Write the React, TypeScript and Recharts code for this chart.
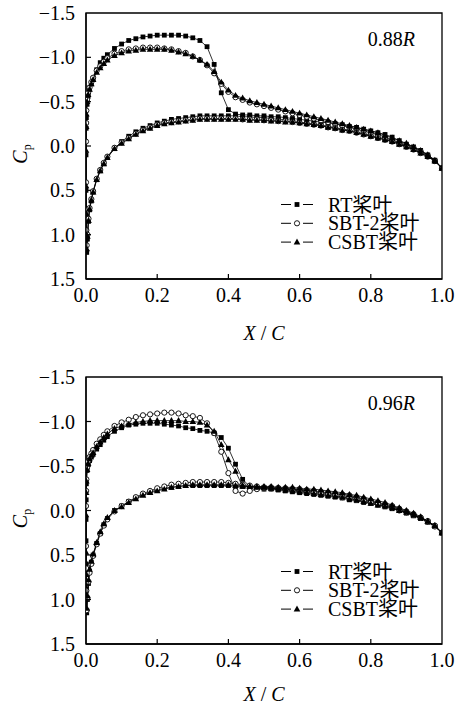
import React from 'react';
import { ScatterChart, Scatter, XAxis, YAxis, ReferenceArea, Legend } from 'recharts';

// Chord stations (leading edge part, then body)
const X_UPPER = [
  0, 0.0005, 0.001, 0.003, 0.006, 0.01, 0.015, 0.02, 0.03, 0.04, 0.05, 0.06, 0.08,
  0.1, 0.12, 0.14, 0.16, 0.18, 0.2, 0.22, 0.24, 0.26, 0.28,
  0.3, 0.32, 0.34, 0.36, 0.38, 0.4, 0.42, 0.44, 0.46, 0.48,
  0.5, 0.52, 0.54, 0.56, 0.58, 0.6, 0.62, 0.64, 0.66, 0.68,
  0.7, 0.72, 0.74, 0.76, 0.78, 0.8, 0.82, 0.84, 0.86, 0.88,
  0.9, 0.92, 0.94, 0.96, 0.98, 1.0,
];
const X_LOWER = [
  0, 0.0005, 0.001, 0.002, 0.004, 0.007, 0.01, 0.015, 0.02, 0.03, 0.04, 0.05, 0.06, 0.08,
  0.1, 0.12, 0.14, 0.16, 0.18, 0.2, 0.22, 0.24, 0.26, 0.28,
  0.3, 0.32, 0.34, 0.36, 0.38, 0.4, 0.42, 0.44, 0.46, 0.48,
  0.5, 0.52, 0.54, 0.56, 0.58, 0.6, 0.62, 0.64, 0.66, 0.68,
  0.7, 0.72, 0.74, 0.76, 0.78, 0.8, 0.82, 0.84, 0.86, 0.88,
  0.9, 0.92, 0.94, 0.96, 0.98, 1.0,
];

// ---------- 0.88R ----------
const R88_RT_UPPER = [
  0.10, -0.20, -0.32, -0.47, -0.56, -0.64, -0.70, -0.76, -0.86, -0.94, -0.99, -1.03, -1.10,
  -1.15, -1.19, -1.21, -1.23, -1.24, -1.25, -1.25, -1.25, -1.25, -1.24,
  -1.22, -1.19, -1.12, -0.92, -0.60, -0.41, -0.36, -0.35, -0.35, -0.34,
  -0.34, -0.33, -0.33, -0.32, -0.31, -0.30, -0.29, -0.28, -0.27, -0.26,
  -0.25, -0.24, -0.22, -0.21, -0.19, -0.17, -0.15, -0.13, -0.10, -0.06,
  -0.02, 0.01, 0.05, 0.10, 0.16, 0.25,
];
const R88_SBT_UPPER = [
  -0.05, -0.26, -0.40, -0.52, -0.60, -0.66, -0.72, -0.77, -0.85, -0.90, -0.95, -0.99, -1.04,
  -1.07, -1.09, -1.10, -1.11, -1.11, -1.11, -1.10, -1.09, -1.07, -1.05,
  -1.01, -0.97, -0.91, -0.82, -0.70, -0.61, -0.55, -0.52, -0.49, -0.47,
  -0.45, -0.43, -0.41, -0.39, -0.37, -0.35, -0.33, -0.31, -0.29, -0.27,
  -0.25, -0.23, -0.21, -0.19, -0.17, -0.15, -0.13, -0.10, -0.07, -0.04,
  -0.01, 0.02, 0.06, 0.11, 0.17, 0.25,
];
const R88_CSBT_UPPER = [
  0.05, -0.22, -0.36, -0.50, -0.58, -0.64, -0.70, -0.75, -0.83, -0.88, -0.93, -0.97, -1.02,
  -1.05, -1.07, -1.08, -1.09, -1.09, -1.09, -1.09, -1.08, -1.06, -1.04,
  -1.01, -0.97, -0.92, -0.84, -0.72, -0.63, -0.57, -0.54, -0.51, -0.49,
  -0.47, -0.45, -0.43, -0.41, -0.39, -0.37, -0.35, -0.33, -0.31, -0.29,
  -0.27, -0.25, -0.23, -0.21, -0.19, -0.17, -0.15, -0.12, -0.09, -0.06,
  -0.03, 0.01, 0.05, 0.10, 0.16, 0.25,
];
const R88_RT_LOWER = [
  0.50, 0.80, 1.05, 1.20, 1.05, 0.85, 0.72, 0.62, 0.52, 0.38, 0.28, 0.20, 0.13, 0.03,
  -0.05, -0.11, -0.16, -0.20, -0.23, -0.26, -0.28, -0.30, -0.31, -0.32,
  -0.33, -0.34, -0.34, -0.34, -0.34, -0.34, -0.34, -0.33, -0.33, -0.32,
  -0.32, -0.31, -0.30, -0.30, -0.29, -0.27, -0.26, -0.25, -0.24, -0.22,
  -0.21, -0.19, -0.18, -0.16, -0.14, -0.12, -0.10, -0.08, -0.06, -0.03,
  0.00, 0.03, 0.07, 0.11, 0.17, 0.25,
];
const R88_SBT_LOWER = [
  0.41, 0.72, 0.95, 1.12, 1.00, 0.82, 0.70, 0.60, 0.51, 0.37, 0.27, 0.19, 0.12, 0.02,
  -0.04, -0.09, -0.14, -0.18, -0.21, -0.24, -0.26, -0.27, -0.28, -0.29,
  -0.30, -0.31, -0.31, -0.31, -0.31, -0.31, -0.31, -0.30, -0.30, -0.30,
  -0.29, -0.29, -0.28, -0.28, -0.27, -0.26, -0.25, -0.24, -0.23, -0.21,
  -0.20, -0.18, -0.17, -0.15, -0.13, -0.11, -0.09, -0.07, -0.05, -0.02,
  0.01, 0.04, 0.08, 0.12, 0.17, 0.25,
];
const R88_CSBT_LOWER = [
  0.45, 0.76, 1.00, 1.16, 1.02, 0.84, 0.71, 0.61, 0.52, 0.38, 0.28, 0.20, 0.13, 0.03,
  -0.03, -0.08, -0.13, -0.17, -0.20, -0.23, -0.25, -0.26, -0.27, -0.28,
  -0.29, -0.30, -0.30, -0.30, -0.30, -0.30, -0.30, -0.30, -0.29, -0.29,
  -0.29, -0.28, -0.28, -0.27, -0.27, -0.26, -0.25, -0.24, -0.23, -0.21,
  -0.20, -0.18, -0.17, -0.15, -0.13, -0.11, -0.09, -0.07, -0.05, -0.02,
  0.01, 0.04, 0.08, 0.12, 0.17, 0.25,
];

// ---------- 0.96R ----------
const R96_RT_UPPER = [
  0.10, -0.12, -0.30, -0.45, -0.52, -0.56, -0.60, -0.63, -0.69, -0.74, -0.79, -0.83, -0.89,
  -0.93, -0.96, -0.97, -0.98, -0.98, -0.98, -0.97, -0.96, -0.95, -0.93,
  -0.92, -0.90, -0.89, -0.87, -0.82, -0.70, -0.52, -0.35, -0.27, -0.26,
  -0.26, -0.25, -0.25, -0.24, -0.24, -0.23, -0.22, -0.21, -0.20, -0.19,
  -0.18, -0.17, -0.15, -0.14, -0.12, -0.10, -0.08, -0.06, -0.04, -0.01,
  0.02, 0.05, 0.09, 0.13, 0.18, 0.25,
];
const R96_SBT_UPPER = [
  -0.05, -0.22, -0.35, -0.48, -0.55, -0.60, -0.64, -0.68, -0.75, -0.80, -0.85, -0.89, -0.95,
  -0.99, -1.02, -1.05, -1.07, -1.08, -1.09, -1.10, -1.10, -1.09, -1.07,
  -1.06, -1.04, -0.98, -0.87, -0.66, -0.42, -0.22, -0.19, -0.22, -0.24,
  -0.25, -0.25, -0.25, -0.25, -0.24, -0.24, -0.23, -0.22, -0.21, -0.20,
  -0.19, -0.18, -0.17, -0.15, -0.13, -0.11, -0.09, -0.07, -0.05, -0.02,
  0.01, 0.04, 0.08, 0.12, 0.18, 0.25,
];
const R96_CSBT_UPPER = [
  0.05, -0.20, -0.33, -0.46, -0.53, -0.58, -0.62, -0.65, -0.72, -0.77, -0.82, -0.86, -0.92,
  -0.95, -0.97, -0.99, -1.00, -1.01, -1.01, -1.01, -1.01, -1.01, -1.00,
  -1.00, -0.99, -0.96, -0.89, -0.74, -0.57, -0.44, -0.27, -0.27, -0.27,
  -0.27, -0.27, -0.26, -0.26, -0.26, -0.25, -0.24, -0.24, -0.23, -0.22,
  -0.21, -0.20, -0.18, -0.17, -0.15, -0.13, -0.11, -0.09, -0.06, -0.03,
  0.00, 0.03, 0.07, 0.12, 0.17, 0.25,
];
const R96_RT_LOWER = [
  0.34, 0.60, 0.88, 1.15, 1.00, 0.82, 0.68, 0.58, 0.50, 0.37, 0.26, 0.16, 0.09, 0.00,
  -0.05, -0.10, -0.14, -0.18, -0.21, -0.23, -0.25, -0.26, -0.27, -0.28,
  -0.28, -0.28, -0.28, -0.28, -0.28, -0.28, -0.27, -0.27, -0.26, -0.25,
  -0.24, -0.24, -0.23, -0.22, -0.21, -0.20, -0.19, -0.18, -0.17, -0.16,
  -0.15, -0.14, -0.12, -0.11, -0.09, -0.08, -0.06, -0.04, -0.02, 0.00,
  0.03, 0.06, 0.09, 0.13, 0.18, 0.25,
];
const R96_SBT_LOWER = [
  0.40, 0.65, 0.90, 1.12, 0.98, 0.80, 0.70, 0.60, 0.51, 0.38, 0.26, 0.17, 0.10, 0.01,
  -0.05, -0.10, -0.15, -0.19, -0.22, -0.25, -0.27, -0.29, -0.30, -0.31,
  -0.32, -0.32, -0.32, -0.32, -0.32, -0.31, -0.30, -0.29, -0.28, -0.27,
  -0.26, -0.26, -0.25, -0.24, -0.23, -0.22, -0.21, -0.20, -0.19, -0.18,
  -0.17, -0.15, -0.14, -0.12, -0.11, -0.09, -0.07, -0.05, -0.03, 0.00,
  0.02, 0.05, 0.08, 0.12, 0.17, 0.25,
];
const R96_CSBT_LOWER = [
  0.47, 0.72, 0.95, 1.10, 0.96, 0.78, 0.66, 0.57, 0.49, 0.36, 0.24, 0.15, 0.08, 0.00,
  -0.04, -0.09, -0.13, -0.17, -0.20, -0.22, -0.24, -0.26, -0.27, -0.28,
  -0.29, -0.29, -0.29, -0.29, -0.29, -0.29, -0.28, -0.28, -0.27, -0.26,
  -0.26, -0.25, -0.24, -0.23, -0.22, -0.21, -0.20, -0.19, -0.18, -0.17,
  -0.16, -0.15, -0.13, -0.12, -0.10, -0.08, -0.06, -0.05, -0.03, 0.00,
  0.02, 0.05, 0.08, 0.12, 0.17, 0.25,
];

const X_TICKS = [0, 0.2, 0.4, 0.6, 0.8, 1.0];
const Y_TICKS = [-1.5, -1.0, -0.5, 0, 0.5, 1.0, 1.5];
const SERIES_NAMES = ['RT桨叶', 'SBT-2桨叶', 'CSBT桨叶'];
const SECTION_LABELS = ['0.88', '0.96'];

const FONT = '"Liberation Serif", "Times New Roman", "Noto Sans CJK SC", serif';
const FS = 20;

function buildLoop(upper: number[], lower: number[]) {
  const pts: { x: number; y: number }[] = [];
  for (let i = X_UPPER.length - 1; i >= 0; i--) pts.push({ x: X_UPPER[i], y: upper[i] });
  for (let i = 0; i < X_LOWER.length; i++) pts.push({ x: X_LOWER[i], y: lower[i] });
  return pts;
}

const fmt = (v: number) => v.toFixed(1).replace('-', '\u2212');

const SquareShape = (p: any) => (
  <rect x={p.cx - 2.4} y={p.cy - 2.4} width={4.8} height={4.8} fill="#000" />
);
const CircleShape = (p: any) => (
  <circle cx={p.cx} cy={p.cy} r={2.6} fill="#fff" stroke="#000" strokeWidth={0.9} />
);
const TriangleShape = (p: any) => (
  <polygon
    points={`${p.cx},${p.cy - 3.5} ${p.cx + 3.3},${p.cy + 2.4} ${p.cx - 3.3},${p.cy + 2.4}`}
    fill="#000"
  />
);

const XTick = (p: any) => {
  const v = p.payload.value;
  const edge = v === 0 || v === 1;
  return (
    <g>
      {!edge && <line x1={p.x} x2={p.x} y1={p.y} y2={p.y - 5} stroke="#000" strokeWidth={1.2} />}
      <text x={p.x} y={p.y + 23} textAnchor="middle" fontSize={FS} fontFamily={FONT} fill="#000">
        {fmt(v)}
      </text>
    </g>
  );
};

const YTick = (p: any) => {
  const v = p.payload.value;
  const edge = v === -1.5 || v === 1.5;
  return (
    <g>
      {!edge && <line x1={p.x} x2={p.x + 5} y1={p.y} y2={p.y} stroke="#000" strokeWidth={1.2} />}
      <text x={p.x - 11} y={p.y + 7} textAnchor="end" fontSize={FS} fontFamily={FONT} fill="#000">
        {fmt(v)}
      </text>
    </g>
  );
};

const LegendGlyph = ({ i, cx, cy }: { i: number; cx: number; cy: number }) => {
  if (i === 0) return <rect x={cx - 2.4} y={cy - 2.4} width={4.8} height={4.8} fill="#000" />;
  if (i === 1) return <circle cx={cx} cy={cy} r={2.6} fill="#fff" stroke="#000" strokeWidth={0.9} />;
  return (
    <polygon points={`${cx},${cy - 3.5} ${cx + 3.3},${cy + 2.4} ${cx - 3.3},${cy + 2.4}`} fill="#000" />
  );
};

const LegendBox = () => (
  <svg width={170} height={62} style={{ display: 'block' }}>
    {SERIES_NAMES.map((name, i) => {
      const cy = 9.5 + i * 18.8;
      return (
        <g key={name}>
          <line x1={5} x2={15} y1={cy} y2={cy} stroke="#000" strokeWidth={1} />
          <LegendGlyph i={i} cx={21} cy={cy} />
          <line x1={27} x2={37} y1={cy} y2={cy} stroke="#000" strokeWidth={1} />
          <text x={52} y={cy + 7} fontSize={FS} fontFamily={FONT} fill="#000">
            {name}
          </text>
        </g>
      );
    })}
  </svg>
);

type PanelProps = {
  top: number;
  height: number;
  axisH: number;
  labelOffset: number;
  section: string;
  rt: { x: number; y: number }[];
  sbt: { x: number; y: number }[];
  csbt: { x: number; y: number }[];
  legendTop: number;
};

const Panel = ({ top, height, axisH, labelOffset, section, rt, sbt, csbt, legendTop }: PanelProps) => (
  <div style={{ position: 'absolute', left: 0, top, width: 459, height }}>
    <ScatterChart width={459} height={height} margin={{ top: 13, right: 17, bottom: 0, left: 0 }}>
      <XAxis
        type="number"
        dataKey="x"
        domain={[0, 1]}
        ticks={X_TICKS}
        interval={0}
        allowDataOverflow
        height={axisH}
        tickSize={0}
        tickMargin={0}
        tickLine={false}
        tick={XTick}
        axisLine={{ stroke: '#000', strokeWidth: 1.3 }}
        label={(props: any) => {
          const vb = props.viewBox;
          return (
            <text
              x={vb.x + vb.width / 2}
              y={vb.y + labelOffset}
              textAnchor="middle"
              fontSize={FS}
              fontFamily={FONT}
              fill="#000"
            >
              <tspan fontStyle="italic">X</tspan>
              <tspan> / </tspan>
              <tspan fontStyle="italic">C</tspan>
            </text>
          );
        }}
      />
      <YAxis
        type="number"
        dataKey="y"
        domain={[-1.5, 1.5]}
        ticks={Y_TICKS}
        interval={0}
        reversed
        allowDataOverflow
        width={86}
        tickSize={0}
        tickMargin={0}
        tickLine={false}
        tick={YTick}
        axisLine={{ stroke: '#000', strokeWidth: 1.3 }}
        label={(props: any) => {
          const vb = props.viewBox;
          const cx = 27;
          const cy = vb.y + vb.height / 2 + 8;
          return (
            <text
              x={cx}
              y={cy}
              transform={`rotate(-90, ${cx}, ${cy})`}
              textAnchor="middle"
              fontSize={FS}
              fontFamily={FONT}
              fill="#000"
            >
              <tspan fontStyle="italic">C</tspan>
              <tspan fontSize={12} dy={4}>p</tspan>
            </text>
          );
        }}
      />
      <ReferenceArea
        x1={0}
        x2={1}
        y1={-1.5}
        y2={1.5}
        fill="none"
        fillOpacity={0}
        stroke="#000"
        strokeWidth={1.3}
        label={(props: any) => {
          const vb = props.viewBox;
          return (
            <text
              x={vb.x + vb.width - 27}
              y={vb.y + 33}
              textAnchor="end"
              fontSize={FS}
              fontFamily={FONT}
              fill="#000"
            >
              {section}
              <tspan fontStyle="italic">R</tspan>
            </text>
          );
        }}
      />
      <Scatter
        name={SERIES_NAMES[0]}
        data={rt}
        shape={SquareShape}
        line={{ stroke: '#000', strokeWidth: 0.8 }}
        lineType="joint"
        isAnimationActive={false}
      />
      <Scatter
        name={SERIES_NAMES[1]}
        data={sbt}
        shape={CircleShape}
        line={{ stroke: '#000', strokeWidth: 0.8 }}
        lineType="joint"
        isAnimationActive={false}
      />
      <Scatter
        name={SERIES_NAMES[2]}
        data={csbt}
        shape={TriangleShape}
        line={{ stroke: '#000', strokeWidth: 0.8 }}
        lineType="joint"
        isAnimationActive={false}
      />
      <Legend
        layout="vertical"
        align="center"
        verticalAlign="middle"
        wrapperStyle={{ position: 'absolute', left: 276, top: legendTop, width: 170, height: 62 }}
        content={() => <LegendBox />}
      />
    </ScatterChart>
  </div>
);

export default function App() {
  return (
    <div
      style={{
        position: 'absolute',
        left: 0,
        top: 0,
        width: 459,
        height: 707,
        background: '#fff',
        fontFamily: FONT,
      }}
    >
      <Panel
        top={0}
        height={364}
        axisH={85}
        labelOffset={61}
        section={SECTION_LABELS[0]}
        rt={buildLoop(R88_RT_UPPER, R88_RT_LOWER)}
        sbt={buildLoop(R88_SBT_UPPER, R88_SBT_LOWER)}
        csbt={buildLoop(R88_CSBT_UPPER, R88_CSBT_LOWER)}
        legendTop={195}
      />
      <Panel
        top={364}
        height={343}
        axisH={63}
        labelOffset={57}
        section={SECTION_LABELS[1]}
        rt={buildLoop(R96_RT_UPPER, R96_RT_LOWER)}
        sbt={buildLoop(R96_SBT_UPPER, R96_SBT_LOWER)}
        csbt={buildLoop(R96_CSBT_UPPER, R96_CSBT_LOWER)}
        legendTop={198}
      />
    </div>
  );
}
